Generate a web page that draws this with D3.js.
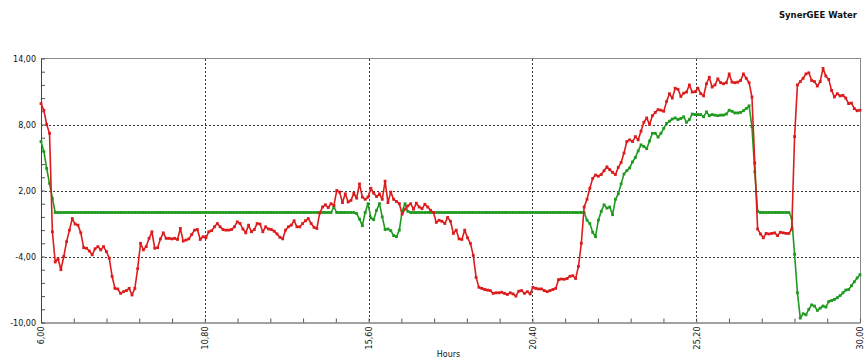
<!DOCTYPE html>
<html>
<head>
<meta charset="utf-8">
<script src="https://cdn.jsdelivr.net/npm/d3@7/dist/d3.min.js"></script>
<style>
  html, body { margin: 0; padding: 0; background: #fff; }
  svg { display: block; }
  text { font-family: "DejaVu Sans", Verdana, sans-serif; fill: #111; }
</style>
</head>
<body>
<svg id="chart" width="867" height="363"></svg>
<script>
// Simulation output sampled every 5 minutes from hour 6 to hour 30
const startHour = 6;
const stepHours = 5 / 60;

// Red series (one row per simulated hour, 12 samples each)
const redSeries = [
  9.9, 9.3, 8.0, 7.2, -1.75, -4.5, -4.2, -5.2, -4.0, -2.65, -1.6, -0.55,
  -1.05, -1.15, -1.85, -3.2, -3.25, -3.5, -3.85, -3.3, -3.1, -3.4, -3.1, -3.55,
  -4.15, -5.8, -6.9, -6.95, -7.35, -7.2, -7.1, -6.9, -7.5, -6.9, -5.1, -2.8,
  -3.4, -3.1, -2.35, -1.75, -3.25, -3.2, -2.4, -1.85, -2.35, -2.35, -2.4, -2.35,
  -2.45, -1.45, -2.6, -2.5, -2.4, -2.0, -1.6, -1.55, -2.45, -2.2, -2.3, -1.75,
  -1.65, -1.3, -1.0, -1.3, -1.55, -1.6, -1.6, -1.55, -1.3, -0.85, -1.0, -1.5,
  -1.85, -1.15, -1.75, -1.55, -1.0, -1.05, -1.75, -1.3, -1.5, -1.55, -1.7, -1.95,
  -2.25, -2.4, -1.6, -1.3, -1.15, -0.75, -1.3, -1.3, -1.0, -0.75, -0.55, -1.0,
  -1.35, -1.45, -0.05, 0.5, 0.7, 0.45, 0.8, 0.65, 2.0, 1.85, 0.9, 1.7,
  0.95, 1.1, 1.75, 1.3, 2.6, 1.4, 1.2, 1.4, 2.2, 1.75, 1.45, 1.7,
  1.2, 2.85, 0.9, 1.85, 1.2, 1.0, 0.8, -0.15, 0.3, 0.6, 0.8, 0.3,
  0.85, 0.5, 0.35, 0.75, 0.5, 0.2, 0.0, -0.9, -0.7, -0.8, -1.0, -0.45,
  -0.8, -1.9, -1.6, -2.4, -2.45, -1.6, -2.3, -2.8, -3.9, -5.9, -6.8, -6.9,
  -7.0, -7.05, -7.1, -7.35, -7.3, -7.3, -7.25, -7.35, -7.45, -7.3, -7.4, -7.6,
  -7.15, -7.1, -7.35, -7.2, -7.4, -6.8, -6.9, -6.95, -6.95, -7.1, -7.2, -7.1,
  -7.0, -6.9, -6.1, -6.05, -6.07, -6.0, -5.8, -5.75, -6.0, -4.9, -2.8, 0.5,
  1.2, 2.2, 3.1, 3.4, 3.3, 3.45, 3.8, 4.15, 3.9, 3.65, 3.45, 4.1,
  4.55, 5.4, 6.45, 6.6, 6.45, 6.9, 6.6, 7.4, 8.2, 8.6, 8.0, 8.8,
  9.1, 9.35, 9.3, 9.2, 10.1, 10.8, 10.4, 11.3, 11.2, 10.55, 10.85, 10.95,
  11.6, 10.95, 10.98, 11.3, 10.8, 10.6, 11.7, 12.3, 11.4, 11.6, 12.15, 11.8,
  11.7, 11.8, 12.6, 11.85, 11.8, 11.85, 12.0, 12.6, 12.2, 11.8, 10.5, 4.5,
  -1.5, -1.95, -2.3, -1.9, -1.95, -1.9, -1.85, -2.1, -1.8, -1.85, -1.9, -1.9,
  -1.5, 6.9, 11.6, 11.9, 12.2, 12.6, 12.7, 12.0, 11.9, 11.5, 11.9, 13.1,
  12.4, 12.1, 11.1, 10.5, 10.8, 10.6, 10.65, 10.4, 9.9, 9.95, 9.45, 9.25,
  9.3
];

// Green series (same sampling)
const greenSeries = [
  6.45, 5.55, 4.0, 2.65, 1.3, 0, 0, 0, 0, 0, 0, 0,
  0, 0, 0, 0, 0, 0, 0, 0, 0, 0, 0, 0,
  0, 0, 0, 0, 0, 0, 0, 0, 0, 0, 0, 0,
  0, 0, 0, 0, 0, 0, 0, 0, 0, 0, 0, 0,
  0, 0, 0, 0, 0, 0, 0, 0, 0, 0, 0, 0,
  0, 0, 0, 0, 0, 0, 0, 0, 0, 0, 0, 0,
  0, 0, 0, 0, 0, 0, 0, 0, 0, 0, 0, 0,
  0, 0, 0, 0, 0, 0, 0, 0, 0, 0, 0, 0,
  0, 0, 0, 0, 0, 0, 0, 0.5, 0, 0, 0, 0,
  0, 0, 0, -0.1, -0.6, -1.2, 0.0, 0.8, -0.5, -0.65, 0.2, 0.8,
  -0.4, -1.55, -1.5, -1.65, -2.1, -2.2, -1.6, 0.1, 0.8, 0.1, 0, 0,
  0, 0, 0, 0, 0, 0, 0, 0, 0, 0, 0, 0,
  0, 0, 0, 0, 0, 0, 0, 0, 0, 0, 0, 0,
  0, 0, 0, 0, 0, 0, 0, 0, 0, 0, 0, 0,
  0, 0, 0, 0, 0, 0, 0, 0, 0, 0, 0, 0,
  0, 0, 0, 0, 0, 0, 0, 0, 0, 0, 0, 0,
  -0.7, -1.0, -1.8, -2.2, -0.7, 0.1, 0.7, 0.4, 0.5, -0.2, 1.2, 1.7,
  2.6, 3.5, 3.8, 4.05, 4.6, 5.0, 5.6, 6.15, 6.0, 5.8, 6.5, 7.2,
  7.2, 6.85, 7.2, 7.65, 8.1, 8.3, 8.5, 8.6, 8.45, 8.55, 8.7, 8.2,
  8.45, 8.95, 8.9, 8.9, 8.9, 8.7, 9.15, 8.8, 8.9, 8.85, 8.8, 8.85,
  8.86, 8.95, 9.3, 9.2, 9.05, 9.05, 9.1, 9.25, 9.45, 9.7, 7.8, 3.7,
  0.1, 0, 0, 0, 0, 0, 0, 0, 0, 0, 0, 0,
  -0.5, -3.8, -7.3, -9.6, -9.2, -9.3, -8.8, -8.4, -8.5, -8.9, -8.7, -8.5,
  -8.6, -8.1, -8.0, -7.9, -7.75, -7.55, -7.3, -7.05, -7.0, -6.65, -6.3, -5.95,
  -5.65
];

// Axis ticks and their labels
const xTicks = [6, 10.8, 15.6, 20.4, 25.2, 30];
const xTickLabels = ["6,00", "10,80", "15,60", "20,40", "25,20", "30,00"];
const yTicks = [14, 8, 2, -4, -10];
const yTickLabels = ["14,00", "8,00", "2,00", "-4,00", "-10,00"];
const xMinorStep = 0.96;
const yMinorStep = 1.2;

const chartTitle = "SynerGEE Water";
const xTitle = "Hours";

const colors = { red: "#dc1c1c", green: "#1f9a1f" };

const plot = { left: 41, right: 860, top: 58.5, bottom: 322.5 };

const svg = d3.select("#chart");

const x = d3.scaleLinear().domain([6, 30]).range([plot.left, plot.right]);
const y = d3.scaleLinear().domain([-10, 14]).range([plot.bottom, plot.top]);

const hourOf = i => startHour + i * stepHours;

// Title
svg.append("text")
  .attr("x", 857).attr("y", 18)
  .attr("text-anchor", "end")
  .style("font-size", "8.5px")
  .style("font-weight", "bold")
  .text(chartTitle);

// Dashed grid at the inner major ticks
const grid = svg.append("g").attr("class", "grid")
  .attr("stroke", "#3a3a3a").attr("stroke-width", 1)
  .attr("stroke-dasharray", "2,2").attr("shape-rendering", "crispEdges");
grid.selectAll("line.h").data(yTicks.filter(v => v > -10 && v < 14)).join("line")
  .attr("x1", plot.left).attr("x2", plot.right)
  .attr("y1", d => Math.round(y(d)) + 0.5).attr("y2", d => Math.round(y(d)) + 0.5);
grid.selectAll("line.v").data(xTicks.filter(v => v > 6 && v < 30)).join("line")
  .attr("y1", plot.top).attr("y2", plot.bottom)
  .attr("x1", d => Math.round(x(d)) + 0.5).attr("x2", d => Math.round(x(d)) + 0.5);

// Frame (top and right edges)
svg.append("path")
  .attr("d", `M${plot.left},${plot.top}H${plot.right}V${plot.bottom}`)
  .attr("fill", "none").attr("stroke", "#8a8a8a").attr("stroke-width", 1)
  .attr("shape-rendering", "crispEdges");

// Minor ticks, pointing into the plot
const xMinor = d3.range(6, 30 + 1e-6, xMinorStep);
const yMinor = d3.range(-10, 14 + 1e-6, yMinorStep);

svg.append("g")
  .attr("transform", `translate(0,${plot.bottom})`)
  .call(d3.axisBottom(x).tickValues(xMinor).tickSize(-4).tickFormat(""))
  .call(g => g.select(".domain").remove())
  .call(g => g.selectAll("line").attr("stroke", "#555"));

svg.append("g")
  .attr("transform", `translate(${plot.left},0)`)
  .call(d3.axisLeft(y).tickValues(yMinor).tickSize(-4).tickFormat(""))
  .call(g => g.select(".domain").remove())
  .call(g => g.selectAll("line").attr("stroke", "#555"));

// Bottom axis with rotated labels
const xAxis = svg.append("g")
  .attr("transform", `translate(0,${plot.bottom})`)
  .call(d3.axisBottom(x).tickValues(xTicks).tickSize(0)
    .tickFormat((d, i) => xTickLabels[i]));
xAxis.select(".domain").attr("stroke", "#444");
xAxis.selectAll("text")
  .attr("transform", "rotate(-90)")
  .attr("text-anchor", "end")
  .attr("x", -4).attr("y", 0).attr("dy", "0.35em")
  .style("font-size", "8px")
  .style("font-family", "'DejaVu Sans', Verdana, sans-serif")
  .attr("fill", "#111");

// Left axis
const yAxis = svg.append("g")
  .attr("transform", `translate(${plot.left},0)`)
  .call(d3.axisLeft(y).tickValues(yTicks).tickSize(0).tickPadding(5)
    .tickFormat((d, i) => yTickLabels[i]));
yAxis.select(".domain").attr("stroke", "#444");
yAxis.selectAll("text")
  .style("font-size", "8px")
  .style("font-family", "'DejaVu Sans', Verdana, sans-serif")
  .attr("fill", "#111");

// Axis title
svg.append("text")
  .attr("x", (plot.left + plot.right) / 2 - 2).attr("y", 357)
  .attr("text-anchor", "middle")
  .style("font-size", "8px")
  .text(xTitle);

// Series lines with square markers
const line = d3.line().x((d, i) => x(hourOf(i))).y(d => y(d));

function drawSeries(values, color) {
  const g = svg.append("g");
  g.append("path")
    .attr("d", line(values))
    .attr("fill", "none")
    .attr("stroke", color)
    .attr("stroke-width", 1.6)
    .attr("stroke-linejoin", "round");
  const m = 2.8;
  g.selectAll("rect").data(values).join("rect")
    .attr("x", (d, i) => x(hourOf(i)) - m / 2)
    .attr("y", d => y(d) - m / 2)
    .attr("width", m).attr("height", m)
    .attr("fill", color);
}

drawSeries(greenSeries, colors.green);
drawSeries(redSeries, colors.red);
</script>
</body>
</html>
